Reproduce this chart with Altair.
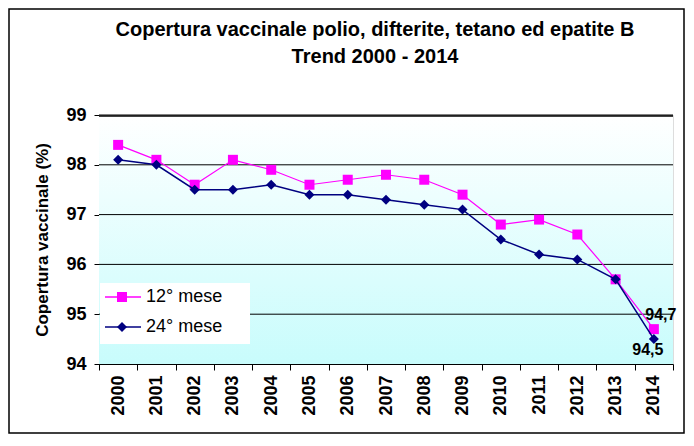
import altair as alt
import pandas as pd

years = [str(y) for y in range(2000, 2015)]
mese12 = [98.4, 98.1, 97.6, 98.1, 97.9, 97.6, 97.7, 97.8, 97.7, 97.4, 96.8, 96.9, 96.6, 95.7, 94.7]
mese24 = [98.1, 98.0, 97.5, 97.5, 97.6, 97.4, 97.4, 97.3, 97.2, 97.1, 96.5, 96.2, 96.1, 95.7, 94.5]
series = ["12° mese", "24° mese"]
colors = ["#ff00ff", "#000080"]
title_lines = ["Copertura vaccinale polio, difterite, tetano ed epatite B", "Trend 2000 - 2014"]
y_title = "Copertura vaccinale (%)"
y_ticks = [94, 95, 96, 97, 98, 99]

FONT = "Liberation Sans"
W, H = 574, 249

rows = []
for s, vals in zip(series, [mese12, mese24]):
    for y, v in zip(years, vals):
        rows.append({"anno": y, "serie": s, "valore": v, "label": f"{v:.1f}".replace(".", ",")})
df = pd.DataFrame(rows)

xenc = alt.X("anno:N", sort=years,
             scale=alt.Scale(domain=years, paddingInner=0, paddingOuter=0),
             axis=alt.Axis(title=None, labelAngle=270, labelFont=FONT, labelFontSize=18,
                           labelFontWeight="bold", labelColor="black", tickBand="extent",
                           tickSize=6, tickColor="black", domainColor="black",
                           labelPadding=5, grid=False))
yscale = alt.Scale(domain=[94, 99], nice=False, zero=False)
yaxis = alt.Axis(values=y_ticks, format="d", title=y_title, titleFont=FONT,
                 titleFontSize=17, titleFontWeight="bold", titleColor="black",
                 titleX=-57, titleY=H / 2, titleAngle=270,
                 titleAlign="center", titleBaseline="middle",
                 labelFont=FONT, labelFontSize=18, labelFontWeight="bold",
                 labelColor="black", tickSize=5, tickColor="black",
                 domainColor="black", labelPadding=8, grid=False)
yenc = alt.Y("valore:Q", scale=yscale, axis=yaxis, title=y_title)

one = pd.DataFrame({"a": [0]})

bg = alt.Chart(one).mark_rect(
    color=alt.LinearGradient(gradient="linear", x1=0, x2=0, y1=0, y2=1,
                             stops=[alt.GradientStop(offset=0, color="#ffffff"),
                                    alt.GradientStop(offset=1, color="#c8fcfc")])
).encode(x=alt.value(0), x2=alt.value(W), y=alt.value(0), y2=alt.value(H))

grid = alt.Chart(pd.DataFrame({"v": y_ticks[1:]})).mark_rule(color="black", strokeWidth=1).encode(
    y=alt.Y("v:Q", scale=yscale, axis=yaxis, title=y_title), x=alt.value(0), x2=alt.value(W))
top_line = alt.Chart(one).mark_rule(color="black", strokeWidth=1.6, clip=False).encode(
    y=alt.value(1), x=alt.value(0), x2=alt.value(W))

border = alt.Chart(one).mark_rect(
    fill=None, stroke="black", strokeWidth=1.5, clip=False
).encode(x=alt.value(-90), x2=alt.value(585), y=alt.value(-106), y2=alt.value(318))

titles = [alt.Chart(one).mark_text(text=t, font=FONT, fontSize=20, fontWeight="bold",
                                   color="black", align="center", baseline="middle").encode(
    x=alt.value(276), y=alt.value(-85 + 27 * i)) for i, t in enumerate(title_lines)]

base = alt.Chart(df)
s1 = base.transform_filter(alt.datum.serie == series[0])
s2 = base.transform_filter(alt.datum.serie == series[1])
lines_ord = alt.layer(
    s1.mark_line(strokeWidth=1.2, color=colors[0]).encode(x=xenc, y=yenc),
    s1.mark_point(shape="square", size=100, filled=True, opacity=1, color=colors[0]).encode(x=xenc, y=yenc),
    s2.mark_line(strokeWidth=1.5, color=colors[1]).encode(x=xenc, y=yenc),
    s2.mark_point(shape="diamond", size=100, filled=True, opacity=1, color=colors[1]).encode(x=xenc, y=yenc),
)

lab1 = s1.transform_filter(alt.datum.anno == years[-1]).mark_text(
    font=FONT, fontSize=16, fontWeight="bold", color="black", dx=7, dy=-14
).encode(x=xenc, y=yenc, text="label:N")
lab2 = s2.transform_filter(alt.datum.anno == years[-1]).mark_text(
    font=FONT, fontSize=16, fontWeight="bold", color="black", dx=-6, dy=11
).encode(x=xenc, y=yenc, text="label:N")

leg_box = alt.Chart(one).mark_rect(fill="white", stroke=None).encode(
    x=alt.value(1), x2=alt.value(151), y=alt.value(168), y2=alt.value(229))
leg = [leg_box]
for i, (s, c, shp) in enumerate(zip(series, colors, ["square", "diamond"])):
    yy = 182 + 30 * i
    leg.append(alt.Chart(one).mark_rule(color=c, strokeWidth=1.3).encode(
        x=alt.value(6), x2=alt.value(42), y=alt.value(yy)))
    leg.append(alt.Chart(one).mark_point(shape=shp, size=100, filled=True, opacity=1, color=c).encode(
        x=alt.value(23), y=alt.value(yy)))
    leg.append(alt.Chart(one).mark_text(text=s, font=FONT, fontSize=18, align="left",
                                        baseline="middle", color="black").encode(
        x=alt.value(47), y=alt.value(yy)))

chart = alt.layer(bg, grid, border, *titles, lines_ord, lab1, lab2, *leg, top_line).properties(
    width=W, height=H,
    padding={"left": 91, "top": 107, "right": 13, "bottom": 74},
    autosize=alt.AutoSizeParams(type="none"),
).configure_view(stroke=None).configure(background="white")

chart.save("out.html", embed_options={"renderer": "svg", "actions": False})
